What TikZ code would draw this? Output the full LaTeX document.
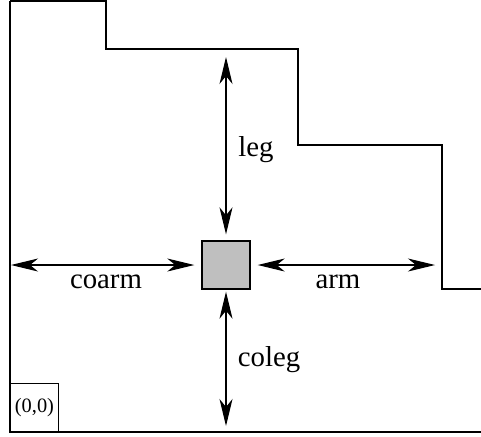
\documentclass[tikz,border=0pt]{standalone}
\usepackage{fontspec}
\setmainfont{Liberation Serif}
\usetikzlibrary{positioning, arrows.meta}
\definecolor{CellGray}{RGB}{191,191,191}
\tikzstyle{wall} = [line width=0.55pt, black]
\tikzstyle{reach} = [line width=0.55pt, black, {Stealth[length=13.5pt, width=6.5pt, inset=4pt]}-{Stealth[length=13.5pt, width=6.5pt, inset=4pt]}]
\tikzstyle{cell} = [rectangle, draw, line width=0.7pt, fill=CellGray, minimum size=24pt, inner sep=0pt]
\tikzstyle{lbl} = [font=\fontsize{14.4}{16}\selectfont, inner sep=0pt]

\begin{document}
\begin{tikzpicture}[x=0.5pt, y=-0.5pt]
            \useasboundingbox (0,0) rectangle (481,436);
            % Walls
            \draw[wall] (10,1) -- (106,1) -- (106,49) -- (298,49) -- (298,145)
                -- (442,145) -- (442,289) -- (481,289);
            \draw[wall] (10,1) -- (10,432) -- (481,432);
            \node[draw, line width=0.5pt, minimum size=24pt, inner sep=0pt, anchor=south west,
                font=\fontsize{10.2}{12}\selectfont] (origin) at (10,432) {(0,0)};

            % Cell and reaches
            \node[cell] (cell) at (226,265) {};
            \coordinate (legtop) at (226,57);
            \coordinate (colegbot) at (226,426);
            \coordinate (coarmend) at (11,265);
            \coordinate (armend) at (435,265);
            \draw[reach, shorten >=3pt] (legtop) -- (cell.north);
            \draw[reach, shorten <=1pt] (cell.south) -- (colegbot);
            \draw[reach, shorten >=3.5pt] (coarmend) -- (cell.west);
            \draw[reach, shorten <=3.5pt] (cell.east) -- (armend);

            % Labels
            \node[lbl] (leg) at (256,150) {leg};
            \node[lbl] (coleg) at (269,360) {coleg};
            \node[lbl] (coarm) at (106,282) {coarm};
            \node[lbl] (arm) at (338,282) {arm};
        \end{tikzpicture}
\end{document}
